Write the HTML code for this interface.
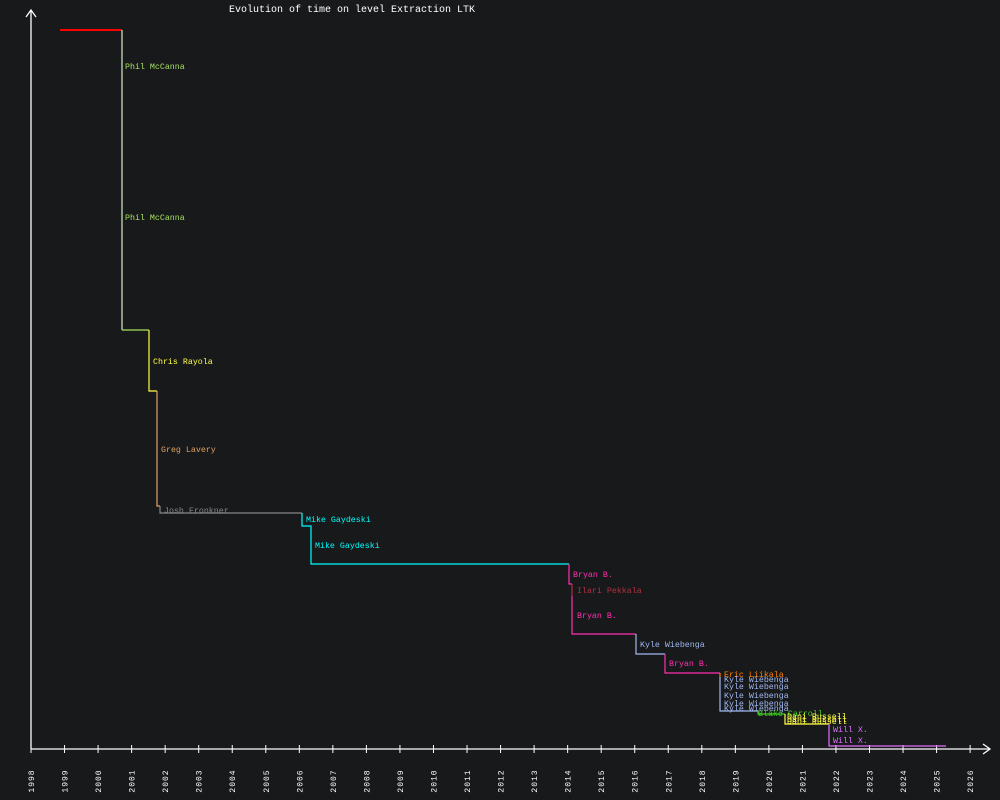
<!DOCTYPE html>
<html><head><meta charset="utf-8"><style>
html,body{margin:0;padding:0;background:#18191b;}
svg{display:block;}
text{font-family:"Liberation Mono","DejaVu Sans Mono",monospace;}
</style></head><body>
<svg width="1000" height="800" viewBox="0 0 1000 800" xmlns="http://www.w3.org/2000/svg">
<rect width="1000" height="800" fill="#18191b"/>
<text x="229" y="12" fill="#ffffff" style="font-size:10px">Evolution of time on level Extraction LTK</text>
<g stroke="#ffffff" stroke-width="1.3" fill="none">
<line x1="31" y1="10" x2="31" y2="749"/>
<polyline points="26,17 31,10 36,17"/>
<line x1="31" y1="749" x2="990" y2="749"/>
<polyline points="983,744 990,749 983,754"/>
</g>
<g id="ticks" stroke="#ffffff" stroke-width="1"></g>
<g id="labels" fill="#ffffff" style="font-size:8px"></g>
<g fill="none" stroke-width="1.2">
<polyline points="60,30 122,30" stroke="#ff0000" stroke-width="2"/>
<polyline points="122,30 122,330" stroke="#d8e8c8"/>
<polyline points="122,330 149,330" stroke="#a8e060"/>
<polyline points="149,330 149,391 157,391" stroke="#ffff40"/>
<polyline points="157,391 157,506 160,506" stroke="#e0a060"/>
<polyline points="160,506 160,513 302,513" stroke="#888888"/>
<polyline points="302,513 302,526 311,526 311,564 569,564" stroke="#00ffff"/>
<polyline points="569,564 569,584 572,584" stroke="#ff30b0"/>
<polyline points="572,584 572,596" stroke="#b03040"/>
<polyline points="572,596 572,634 636,634" stroke="#ff30b0"/>
<polyline points="636,634 636,654 665,654" stroke="#a0b8f0"/>
<polyline points="665,654 665,673 720,673" stroke="#ff30b0"/>
<polyline points="720,673 720,677" stroke="#ff8000"/>
<polyline points="720,677 720,711 758,711" stroke="#a0b8f0"/>
<polyline points="758,711 758,714 785,714" stroke="#40d020"/>
<polyline points="785,714 785,724 829,724" stroke="#ffff40"/>
<polyline points="829,724 829,746 946,746" stroke="#e070ff"/>
</g>
<g style="font-size:8.3px">
<text x="125" y="69" fill="#a8e060">Phil McCanna</text>
<text x="125" y="220" fill="#a8e060">Phil McCanna</text>
<text x="153" y="364" fill="#ffff40">Chris Rayola</text>
<text x="161" y="452" fill="#e0a060">Greg Lavery</text>
<text x="164" y="513" fill="#888888">Josh Fronkner</text>
<text x="306" y="522" fill="#00ffff">Mike Gaydeski</text>
<text x="315" y="548" fill="#00ffff">Mike Gaydeski</text>
<text x="573" y="577" fill="#ff30b0">Bryan B.</text>
<text x="577" y="593" fill="#b03040">Ilari Pekkala</text>
<text x="577" y="618" fill="#ff30b0">Bryan B.</text>
<text x="640" y="647" fill="#a0b8f0">Kyle Wiebenga</text>
<text x="669" y="666" fill="#ff30b0">Bryan B.</text>
<text x="724" y="677" fill="#ff8000">Eric Liikala</text>
<text x="724" y="682" fill="#a0b8f0">Kyle Wiebenga</text>
<text x="724" y="689" fill="#a0b8f0">Kyle Wiebenga</text>
<text x="724" y="698" fill="#a0b8f0">Kyle Wiebenga</text>
<text x="724" y="706" fill="#a0b8f0">Kyle Wiebenga</text>
<text x="724" y="711" fill="#a0b8f0">Kyle Wiebenga</text>
<text x="758" y="716" fill="#40d020">Blake Carroll</text>
<text x="787" y="719" fill="#ffff40">Dani Russell</text>
<text x="787" y="722" fill="#ffff40">Dani Russell</text>
<text x="787" y="724" fill="#ffff40">Dani Russell</text>
<text x="833" y="732" fill="#e070ff">Will X.</text>
<text x="833" y="743" fill="#e070ff">Will X.</text>
</g>
<script>
var t=document.getElementById('ticks'),l=document.getElementById('labels'),ns='http://www.w3.org/2000/svg';
for(var y=1998;y<=2026;y++){var x=31+(y-1998)*33.54;
var ln=document.createElementNS(ns,'line');ln.setAttribute('x1',x);ln.setAttribute('x2',x);ln.setAttribute('y1',745);ln.setAttribute('y2',753);t.appendChild(ln);
var tx=document.createElementNS(ns,'text');tx.setAttribute('transform','translate('+(x+3)+',781) rotate(-90)');tx.setAttribute('text-anchor','middle');tx.setAttribute('letter-spacing','1');tx.textContent=y;l.appendChild(tx);}
</script>
</svg>
</body></html>
